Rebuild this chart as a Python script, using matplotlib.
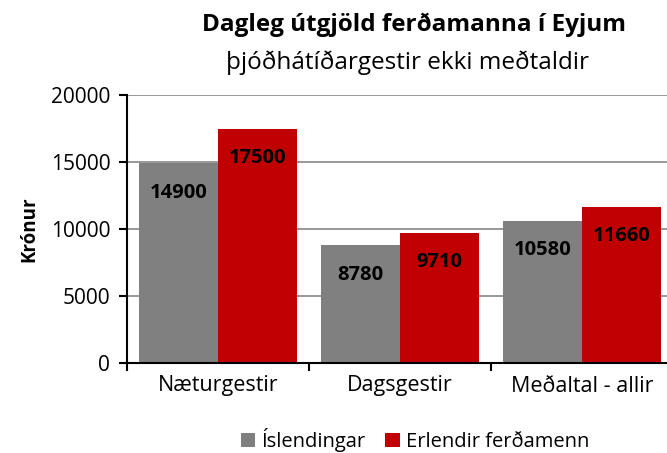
import numpy as np
import matplotlib.pyplot as plt

plt.rcParams['font.family'] = ['Open Sans', 'DejaVu Sans']

categories = ['Næturgestir', 'Dagsgestir', 'Meðaltal - allir']
islendingar = [14900, 8780, 10580]
erlendir = [17500, 9710, 11660]
series_names = ['Íslendingar', 'Erlendir ferðamenn']
colors = ['#808080', '#C00000']

fig = plt.figure(figsize=(6.67, 4.53), dpi=100)
ax = fig.add_axes([127/667, 1 - 363/453, 540/667, 268/453])

x = np.arange(len(categories))
w = 0.434
b1 = ax.bar(x - w/2, islendingar, w, color=colors[0], label=series_names[0])
b2 = ax.bar(x + w/2, erlendir, w, color=colors[1], label=series_names[1])

for bars, vals in [(b1, islendingar), (b2, erlendir)]:
    for r, v in zip(bars, vals):
        ax.annotate(str(v), (r.get_x() + r.get_width()/2, v), xytext=(0, -21),
                    textcoords='offset points', ha='center', va='center',
                    fontsize=14.5, fontweight='bold', color='black')

ax.set_ylim(0, 20000)
ax.set_yticks([0, 5000, 10000, 15000, 20000])
ax.set_xlim(-0.5, 2.467)
ax.set_xticks([-0.5, 0.5, 1.5], minor=False)
ax.set_xticklabels([])
ax.set_xticks(x, minor=True)
ax.set_xticklabels(categories, minor=True)
ax.tick_params(axis='x', which='minor', length=0, pad=9, labelsize=15.5)
ax.tick_params(axis='x', which='major', length=6, direction='out', width=1.5)
ax.tick_params(axis='y', length=6, direction='out', width=1.5, labelsize=15, pad=6)
ax.yaxis.grid(True, color='#868686', linewidth=1.2)
ax.set_axisbelow(True)
for s in ['top', 'right']:
    ax.spines[s].set_visible(False)
ax.spines['left'].set_linewidth(1.5)
ax.spines['bottom'].set_linewidth(1.5)
ax.spines['bottom'].set_zorder(5)

ax.set_ylabel('Krónur', fontsize=13.5, fontweight='bold', labelpad=8)

fig.text(414/667, 1 - 25/453, 'Dagleg útgjöld ferðamanna í Eyjum', ha='center', va='center',
         fontsize=17.5, fontweight='bold')
fig.text(408/667, 1 - 63/453, 'þjóðhátíðargestir ekki meðtaldir', ha='center', va='center',
         fontsize=17.5)

fig.legend(handles=[b1, b2], loc='center', bbox_to_anchor=(415/667, 1 - 440/453), ncol=2,
           frameon=False, fontsize=14.5, handlelength=0.7, handleheight=0.7,
           handletextpad=0.3, columnspacing=1.0)

fig.savefig('out.png', dpi=100)
